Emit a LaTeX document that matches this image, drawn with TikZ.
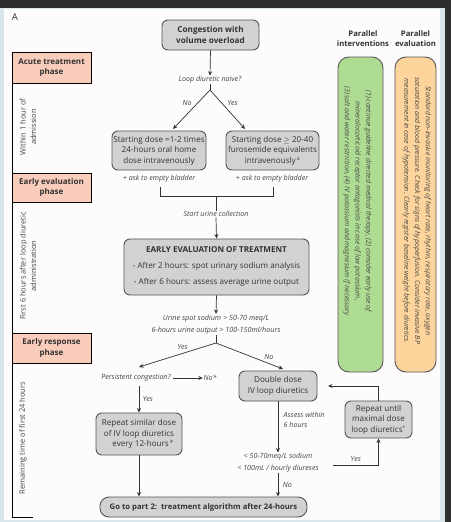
\documentclass[tikz,border=0pt]{standalone}
\usepackage{fontspec}
\setmainfont{Open Sans}
\usetikzlibrary{arrows.meta}
\definecolor{stripc}{HTML}{D9E6EA}
\definecolor{darkc}{HTML}{2E2E2E}
\definecolor{pagec}{HTML}{FDFBFC}
\definecolor{boxg}{HTML}{D2D2D2}
\definecolor{bordc}{HTML}{555555}
\definecolor{salmon}{HTML}{F9CCBB}
\definecolor{greenc}{HTML}{AEDC93}
\definecolor{orangec}{HTML}{FCD49C}
\definecolor{linec}{HTML}{333333}
\definecolor{textc}{HTML}{333333}
\definecolor{labc}{HTML}{444444}
\newcommand{\fz}[2]{\fontsize{#1}{#2}\selectfont}
\tikzset{
  gbox/.style={draw=bordc, fill=boxg, rounded corners=6, line width=0.9, align=center, font=\fz{8.1}{10.5}, text=textc, inner sep=0.5},
  phasebox/.style={draw=black, fill=salmon, line width=0.6, align=center, font=\bfseries\fz{8}{10.5}, text=textc, minimum width=79, inner sep=0},
  lab/.style={font=\itshape\fz{7.1}{12}, text=labc, inner sep=0.5, align=center},
  sidelab/.style={font=\fz{7.5}{10.5}, text=labc, rotate=90, align=center, inner sep=0},
  arr/.style={-{Stealth[length=4.5,width=4]}, line width=0.7, draw=linec},
  ln/.style={line width=0.7, draw=linec},
  colbox/.style={draw=bordc, line width=0.9, rounded corners=11, minimum height=315, inner sep=0},
  coltext/.style={font=\itshape\fz{7}{10.8}, text=labc, rotate=-90, align=center, inner sep=0},
  head/.style={font=\bfseries\fz{7.7}{10.5}, text=textc, align=center, inner sep=0}
}
\begin{document}
\begin{tikzpicture}[x=1pt,y=-1pt]
\useasboundingbox (0,0) rectangle (451,522);
\fill[stripc] (0,0) rectangle (451,522);
\fill[pagec] (4,9) rectangle (440,520);
\fill[darkc] (0,0) rectangle (451,8);
\fill[darkc] (445,0) rectangle (451,522);

\node[font=\fz{9.5}{10}, text=textc, inner sep=0] (lettera) at (15,17) {A};

% phase column
\coordinate (ltop) at (12,52);
\coordinate (lbot) at (12,517);
\coordinate (lend) at (33,517);
\draw[line width=0.7, draw=black] (ltop) -- (lbot) -- (lend);
\node[phasebox, minimum height=31] (ph1) at (51.5,67.5) {Acute treatment\\phase};
\node[phasebox, minimum height=29] (ph2) at (51.5,187.5) {Early evaluation\\phase};
\node[phasebox, minimum height=30] (ph3) at (51.5,348) {Early response\\phase};
\node[sidelab] (s1) at (28,127) {Within 1 hour of\\admission};
\node[sidelab] (s2) at (28,266) {First 6 hours after loop diuretic\\administration};
\node[sidelab] (s3) at (23,438) {Remaining time of first 24 hours};

% main flow
\node[gbox, font=\bfseries\fz{8.2}{10.8}, minimum width=97, minimum height=30] (cong) at (210.5,35) {Congestion with\\volume overload};
\node[lab] (naive) at (210,80) {Loop diuretic naive?};
\draw[arr] (cong.south) -- (naive.north);
\coordinate (sp1) at (210,90);
\draw[ln] (naive.south) -- (sp1);
\node[gbox, minimum width=94, minimum height=39] (sd1) at (159,150.5) {Starting dose =1-2 times\\24-hours oral home\\dose intravenously};
\node[gbox, minimum width=93, minimum height=39] (sd2) at (272.5,150.5) {Starting dose {\fz{7}{8}$\geq$} 20-40\\furosemide equivalents\\intravenously\,\textsuperscript{\fz{4.5}{5}Δ}};
\draw[arr] (sp1) -- node[lab, pos=0.45, above left=1] (no1) {No} (173,129);
\draw[arr] (sp1) -- node[lab, pos=0.45, above right=1] (yes1) {Yes} (245,129);
\node[lab] (bl1) at (159,179) {+ ask to empty bladder};
\node[lab] (bl2) at (272,179) {+ ask to empty bladder};
\coordinate (b1) at (160,187);
\coordinate (b2) at (273,187);
\coordinate (b1d) at (160,196);
\coordinate (b2d) at (273,196);
\coordinate (bm) at (216,196);
\node[lab] (urine) at (216,214) {Start urine collection};
\draw[ln] (b1) -- (b1d) -- (b2d) -- (b2);
\draw[ln] (bm) -- (urine.north);
\node[gbox, minimum width=185, minimum height=56, font=\fz{8.1}{16}] (eval) at (216.5,267) {{\bfseries EARLY EVALUATION OF TREATMENT}\\- After 2 hours: spot urinary sodium analysis\\- After 6 hours: assess average urine output};
\draw[arr] (urine.south) -- (eval.north);
\node[lab, font=\itshape\fz{7.2}{12.5}] (crit) at (216,324.5) {Urine spot sodium > 50-70 meq/L\\6-hours urine output > 100-150ml/hours};
\draw[arr] (eval.south) -- (crit.north);
\coordinate (sp2) at (216,343);
\draw[ln] (crit.south) -- (sp2);
\coordinate (yend) at (139,367);
\coordinate (nend) at (283,369);
\draw[arr] (sp2) -- node[lab, pos=0.35, above left=0.5] (yes2) {Yes} (yend);
\draw[arr] (sp2) -- node[lab, pos=0.7, above right=0.5] (no2) {No} (nend);
\node[lab] (pers) at (136,378) {Persistent congestion?};
\node[lab] (nostar) at (210,378) {No*};
\draw[arr] (pers.east) ++(2,0) -- (nostar.west);
\node[gbox, minimum width=86, minimum height=42] (rep12) at (139,434) {Repeat similar dose\\of IV loop diuretics\\\hspace*{8pt}every 12-hours\,\textsuperscript{\fz{4.5}{5}\#}};
\draw[arr] (139,386) -- node[lab, right=3] (yes3) {Yes} (rep12.north);
\node[gbox, font=\bfseries\fz{7.7}{10}, minimum width=207, minimum height=20, rounded corners=9] (final) at (203.5,507) {Go to part 2:\ \ treatment algorithm after 24-hours};
\draw[arr] (rep12.south) -- (rep12.south |- final.north);
\node[gbox, minimum width=78, minimum height=30] (dbl) at (278,386) {Double dose\\IV loop diuretics};
\node[lab, anchor=west, align=left, font=\itshape\fz{7.1}{10}] (assess) at (283,420) {Assess within\\6 hours};
\node[lab, font=\itshape\fz{7.1}{11.5}] (crit2) at (278,462.5) {< 50-70meq/L sodium\\< 100mL / hourly diureses};
\draw[arr] (dbl.south) -- (crit2.north);
\draw[arr] (crit2.south) -- node[lab, right=4] (no3) {No} (crit2.south |- final.north);
\node[gbox, minimum width=67, minimum height=37] (repmax) at (378.5,419.5) {Repeat until\\maximal dose\\loop diuretics\textsuperscript{\fz{4.5}{5}*}};
\coordinate (ys) at (333,465);
\coordinate (yc) at (378.5,465);
\draw[arr] (ys) -- node[lab, above=3] (yes4) {Yes} (yc) -- (repmax.south);
\coordinate (rc) at (378.5,386);
\coordinate (rt) at (328,386);
\draw[arr] (repmax.north) -- (rc) -- (rt);

% parallel columns
\node[head] (h1) at (363,38.5) {Parallel\\interventions};
\node[head] (h2) at (415.5,38.5) {Parallel\\evaluation};
\node[colbox, fill=greenc, minimum width=45] (green) at (360.5,214.5) {};
\node[colbox, fill=orangec, minimum width=41] (orange) at (415.5,214.5) {};
\node[coltext] (gt) at (357.5,201) {(1) continue guideline directed medical therapy, (2) consider early use of\\mineralocorticoid receptor antagonists in case of low potassium,\\(3) salt and water restriction, (4) IV potassium and magnesium if necessary};
\node[coltext] (ot) at (417,211) {Standard non-invasive monitoring of heart rate, rhythm, respiratory rate, oxygen\\saturation and blood pressure. Check for signs of hypoperfusion. Consider invasive BP\\measurement in case of hypotension. Clearly register baseline weight before diuretics.};
\end{tikzpicture}
\end{document}
